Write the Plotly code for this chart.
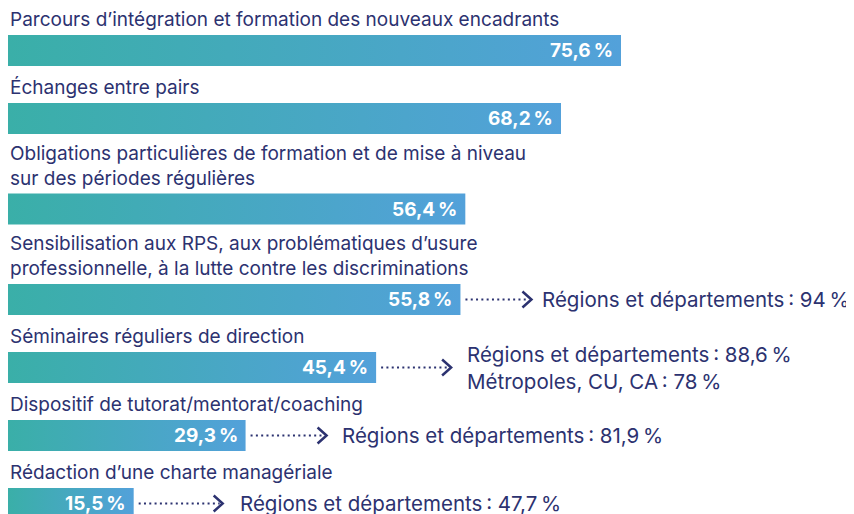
import plotly.graph_objects as go

# ---------------- data ----------------
categories = [
    "Parcours d’intégration et formation des nouveaux encadrants",
    "Échanges entre pairs",
    "Obligations particulières de formation et de mise à niveau<br>sur des périodes régulières",
    "Sensibilisation aux RPS, aux problématiques d’usure<br>professionnelle, à la lutte contre les discriminations",
    "Séminaires réguliers de direction",
    "Dispositif de tutorat/mentorat/coaching",
    "Rédaction d’une charte managériale",
]
values = [75.6, 68.2, 56.4, 55.8, 45.4, 29.3, 15.5]
callouts = [
    None,
    None,
    None,
    "Régions et départements\u202f: 94\u202f%",
    "Régions et départements\u202f: 88,6\u202f%<br>Métropoles, CU, CA\u202f: 78\u202f%",
    "Régions et départements\u202f: 81,9\u202f%",
    "Régions et départements\u202f: 47,7\u202f%",
]

# ---------------- layout / style constants ----------------
W, H = 854, 514
PX_PER_UNIT = 613 / 75.6
FIRST_TOP = 27
ROW_PITCH = 68
EXTRA_LINE = 22.5
BAR_H = 31
ARROW_LEN = [0, 0, 0, 71, 75, 81, 89]
TEXT_GAP = [0, 0, 0, 9, 14, 13, 15]
NAVY = "#2c3270"
C0, C1 = "#3aafa8", "#53a1da"
FONT = "Inter"
FS = 19
FS_VAL = 19
FS_CALL = 20.5

fig = go.Figure()
shapes, annotations = [], []

top = FIRST_TOP
for i, (cat, v) in enumerate(zip(categories, values)):
    if i > 0:
        top += ROW_PITCH + EXTRA_LINE * cat.count("<br>")
    bot = top + BAR_H
    mid = (top + bot) / 2
    fig.add_trace(go.Scatter(
        x=[0, v, v, 0, 0], y=[top, top, bot, bot, top],
        mode="lines", line=dict(width=0, color="rgba(0,0,0,0)"),
        fill="toself",
        fillgradient=dict(type="horizontal", colorscale=[[0, C0], [1, C1]], start=0, stop=v),
        hoverinfo="skip", showlegend=False,
    ))
    annotations.append(dict(
        x=0, y=top, xref="x", yref="y", xanchor="left", yanchor="bottom",
        yshift=2, text=cat, showarrow=False, align="left",
        font=dict(family=FONT, size=FS, color=NAVY),
    ))
    annotations.append(dict(
        x=v, y=mid, xref="x", yref="y", xanchor="right", yanchor="middle",
        xshift=-6, text=f"{v:.1f}".replace(".", ",") + "\u202f%", showarrow=False,
        font=dict(family=FONT, size=FS_VAL, color="white", weight="bold"),
    ))
    if callouts[i]:
        L = ARROW_LEN[i]
        shapes.append(dict(
            type="line", xref="x", yref="y", xsizemode="pixel", xanchor=v,
            x0=5, x1=L - 3, y0=mid, y1=mid,
            line=dict(color=NAVY, width=2, dash="2px,3.3px"),
        ))
        shapes.append(dict(
            type="path", xref="x", yref="y", xsizemode="pixel", ysizemode="pixel",
            xanchor=v, yanchor=mid,
            path=f"M{L-9},-8 L{L},0 L{L-9},8",
            line=dict(color=NAVY, width=2.5),
        ))
        annotations.append(dict(
            x=v, y=mid, xref="x", yref="y", xanchor="left", yanchor="middle",
            xshift=L + TEXT_GAP[i], text=callouts[i], showarrow=False, align="left",
            font=dict(family=FONT, size=FS_CALL, color=NAVY),
        ))

fig.update_layout(
    width=W, height=H,
    margin=dict(l=0, r=0, t=0, b=0),
    paper_bgcolor="white", plot_bgcolor="white",
    xaxis=dict(range=[0, W / PX_PER_UNIT], visible=False, fixedrange=True),
    yaxis=dict(range=[H, 0], visible=False, fixedrange=True),
    shapes=shapes, annotations=annotations,
    showlegend=False,
)
fig.write_html("out.html")
